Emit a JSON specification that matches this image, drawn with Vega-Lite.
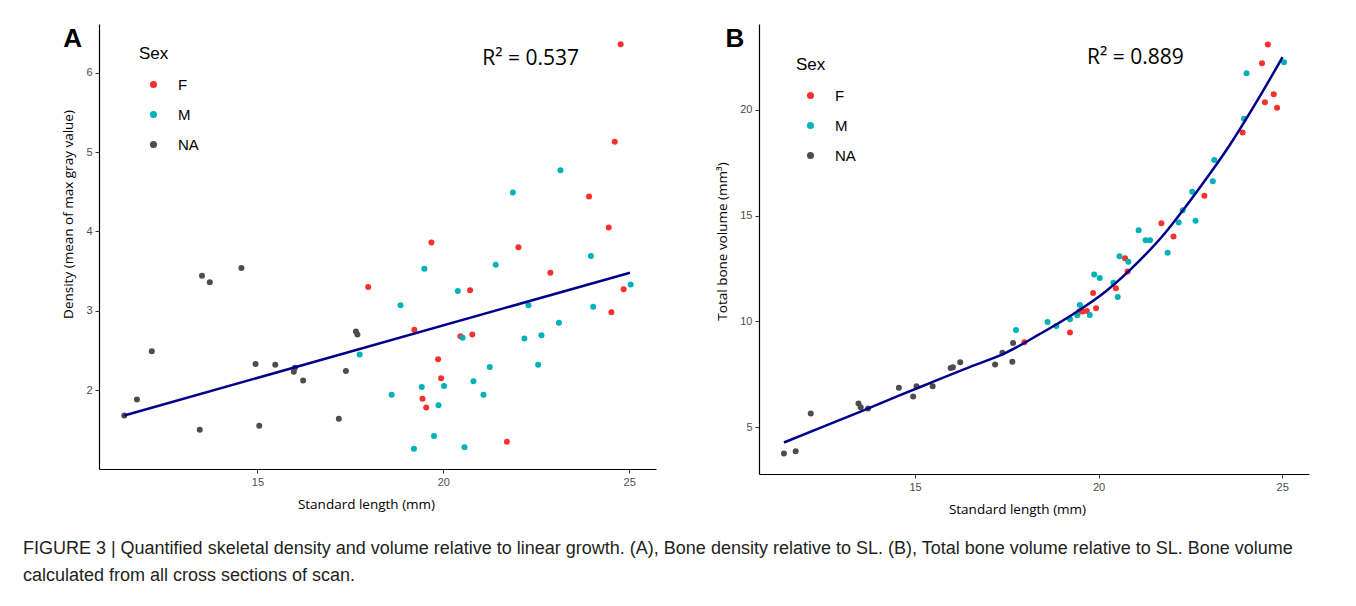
{
  "$schema": "https://vega.github.io/schema/vega-lite/v6.json",
  "background": "white",
  "padding": {"left": 22, "top": 24, "right": 5, "bottom": 10},
  "spacing": 59,
  "title": {
    "text": ["FIGURE 3 | Quantified skeletal density and volume relative to linear growth. (A), Bone density relative to SL. (B), Total bone volume relative to SL. Bone volume", "calculated from all cross sections of scan."],
    "orient": "bottom", "anchor": "start", "frame": "bounds", "dx": -39, "offset": 24,
    "font": "Liberation Sans", "fontSize": 18, "fontWeight": "normal", "lineHeight": 27, "color": "#231F20"
  },
  "datasets": {
    "densA": [
      {"sl": 24.77, "density": 6.36, "sex": "F"},
      {"sl": 24.61, "density": 5.13, "sex": "F"},
      {"sl": 23.92, "density": 4.44, "sex": "F"},
      {"sl": 24.45, "density": 4.05, "sex": "F"},
      {"sl": 19.68, "density": 3.86, "sex": "F"},
      {"sl": 22.02, "density": 3.80, "sex": "F"},
      {"sl": 22.88, "density": 3.48, "sex": "F"},
      {"sl": 20.72, "density": 3.26, "sex": "F"},
      {"sl": 24.85, "density": 3.27, "sex": "F"},
      {"sl": 24.52, "density": 2.98, "sex": "F"},
      {"sl": 19.22, "density": 2.76, "sex": "F"},
      {"sl": 20.46, "density": 2.68, "sex": "F"},
      {"sl": 20.78, "density": 2.70, "sex": "F"},
      {"sl": 19.86, "density": 2.39, "sex": "F"},
      {"sl": 19.94, "density": 2.15, "sex": "F"},
      {"sl": 19.44, "density": 1.89, "sex": "F"},
      {"sl": 19.54, "density": 1.78, "sex": "F"},
      {"sl": 21.71, "density": 1.35, "sex": "F"},
      {"sl": 17.98, "density": 3.30, "sex": "F"},
      {"sl": 23.15, "density": 4.77, "sex": "M"},
      {"sl": 21.87, "density": 4.49, "sex": "M"},
      {"sl": 23.97, "density": 3.69, "sex": "M"},
      {"sl": 19.49, "density": 3.53, "sex": "M"},
      {"sl": 21.41, "density": 3.58, "sex": "M"},
      {"sl": 20.39, "density": 3.25, "sex": "M"},
      {"sl": 25.04, "density": 3.33, "sex": "M"},
      {"sl": 18.85, "density": 3.07, "sex": "M"},
      {"sl": 22.29, "density": 3.07, "sex": "M"},
      {"sl": 24.03, "density": 3.05, "sex": "M"},
      {"sl": 23.11, "density": 2.85, "sex": "M"},
      {"sl": 20.52, "density": 2.66, "sex": "M"},
      {"sl": 22.18, "density": 2.65, "sex": "M"},
      {"sl": 22.64, "density": 2.69, "sex": "M"},
      {"sl": 21.25, "density": 2.29, "sex": "M"},
      {"sl": 22.55, "density": 2.32, "sex": "M"},
      {"sl": 20.81, "density": 2.11, "sex": "M"},
      {"sl": 19.42, "density": 2.04, "sex": "M"},
      {"sl": 20.02, "density": 2.05, "sex": "M"},
      {"sl": 21.08, "density": 1.94, "sex": "M"},
      {"sl": 18.61, "density": 1.94, "sex": "M"},
      {"sl": 19.87, "density": 1.81, "sex": "M"},
      {"sl": 19.75, "density": 1.42, "sex": "M"},
      {"sl": 19.21, "density": 1.26, "sex": "M"},
      {"sl": 20.57, "density": 1.28, "sex": "M"},
      {"sl": 17.75, "density": 2.45, "sex": "M"},
      {"sl": 11.42, "density": 1.68, "sex": "NA"},
      {"sl": 11.76, "density": 1.88, "sex": "NA"},
      {"sl": 12.16, "density": 2.49, "sex": "NA"},
      {"sl": 13.45, "density": 1.50, "sex": "NA"},
      {"sl": 13.51, "density": 3.44, "sex": "NA"},
      {"sl": 13.72, "density": 3.36, "sex": "NA"},
      {"sl": 14.57, "density": 3.54, "sex": "NA"},
      {"sl": 14.95, "density": 2.33, "sex": "NA"},
      {"sl": 15.05, "density": 1.55, "sex": "NA"},
      {"sl": 15.48, "density": 2.32, "sex": "NA"},
      {"sl": 15.98, "density": 2.23, "sex": "NA"},
      {"sl": 16.01, "density": 2.28, "sex": "NA"},
      {"sl": 16.23, "density": 2.12, "sex": "NA"},
      {"sl": 17.19, "density": 1.64, "sex": "NA"},
      {"sl": 17.38, "density": 2.24, "sex": "NA"},
      {"sl": 17.65, "density": 2.74, "sex": "NA"},
      {"sl": 17.69, "density": 2.70, "sex": "NA"}
    ],
    "lineA": [
      {"sl": 11.42, "density": 1.68},
      {"sl": 25.02, "density": 3.48}
    ],
    "volB": [
      {"sl": 17.98, "volume": 9.02, "sex": "F"},
      {"sl": 19.22, "volume": 9.48, "sex": "F"},
      {"sl": 19.47, "volume": 10.47, "sex": "F"},
      {"sl": 19.56, "volume": 10.47, "sex": "F"},
      {"sl": 19.68, "volume": 10.49, "sex": "F"},
      {"sl": 19.85, "volume": 11.35, "sex": "F"},
      {"sl": 19.93, "volume": 10.63, "sex": "F"},
      {"sl": 20.47, "volume": 11.57, "sex": "F"},
      {"sl": 20.72, "volume": 12.98, "sex": "F"},
      {"sl": 20.79, "volume": 12.36, "sex": "F"},
      {"sl": 21.71, "volume": 14.63, "sex": "F"},
      {"sl": 22.04, "volume": 14.01, "sex": "F"},
      {"sl": 22.88, "volume": 15.93, "sex": "F"},
      {"sl": 23.92, "volume": 18.92, "sex": "F"},
      {"sl": 24.61, "volume": 23.07, "sex": "F"},
      {"sl": 24.45, "volume": 22.18, "sex": "F"},
      {"sl": 24.77, "volume": 20.72, "sex": "F"},
      {"sl": 24.53, "volume": 20.34, "sex": "F"},
      {"sl": 24.86, "volume": 20.08, "sex": "F"},
      {"sl": 17.75, "volume": 9.60, "sex": "M"},
      {"sl": 18.61, "volume": 9.98, "sex": "M"},
      {"sl": 18.85, "volume": 9.79, "sex": "M"},
      {"sl": 19.22, "volume": 10.11, "sex": "M"},
      {"sl": 19.42, "volume": 10.29, "sex": "M"},
      {"sl": 19.49, "volume": 10.78, "sex": "M"},
      {"sl": 19.76, "volume": 10.31, "sex": "M"},
      {"sl": 19.88, "volume": 12.22, "sex": "M"},
      {"sl": 20.03, "volume": 12.05, "sex": "M"},
      {"sl": 20.40, "volume": 11.83, "sex": "M"},
      {"sl": 20.52, "volume": 11.16, "sex": "M"},
      {"sl": 20.57, "volume": 13.08, "sex": "M"},
      {"sl": 20.81, "volume": 12.82, "sex": "M"},
      {"sl": 21.09, "volume": 14.30, "sex": "M"},
      {"sl": 21.28, "volume": 13.83, "sex": "M"},
      {"sl": 21.40, "volume": 13.83, "sex": "M"},
      {"sl": 21.88, "volume": 13.24, "sex": "M"},
      {"sl": 22.18, "volume": 14.67, "sex": "M"},
      {"sl": 22.29, "volume": 15.25, "sex": "M"},
      {"sl": 22.55, "volume": 16.12, "sex": "M"},
      {"sl": 22.64, "volume": 14.75, "sex": "M"},
      {"sl": 23.11, "volume": 16.62, "sex": "M"},
      {"sl": 23.15, "volume": 17.62, "sex": "M"},
      {"sl": 23.96, "volume": 19.56, "sex": "M"},
      {"sl": 24.03, "volume": 21.71, "sex": "M"},
      {"sl": 25.05, "volume": 22.23, "sex": "M"},
      {"sl": 11.43, "volume": 3.77, "sex": "NA"},
      {"sl": 11.75, "volume": 3.88, "sex": "NA"},
      {"sl": 12.16, "volume": 5.66, "sex": "NA"},
      {"sl": 13.46, "volume": 6.13, "sex": "NA"},
      {"sl": 13.52, "volume": 5.95, "sex": "NA"},
      {"sl": 13.72, "volume": 5.90, "sex": "NA"},
      {"sl": 14.56, "volume": 6.87, "sex": "NA"},
      {"sl": 14.95, "volume": 6.46, "sex": "NA"},
      {"sl": 15.04, "volume": 6.95, "sex": "NA"},
      {"sl": 15.48, "volume": 6.95, "sex": "NA"},
      {"sl": 15.97, "volume": 7.81, "sex": "NA"},
      {"sl": 16.03, "volume": 7.84, "sex": "NA"},
      {"sl": 16.23, "volume": 8.08, "sex": "NA"},
      {"sl": 17.18, "volume": 7.97, "sex": "NA"},
      {"sl": 17.38, "volume": 8.52, "sex": "NA"},
      {"sl": 17.67, "volume": 8.99, "sex": "NA"},
      {"sl": 17.65, "volume": 8.10, "sex": "NA"}
    ],
    "curveB": [
      {"sl": 11.43, "volume": 4.29},
      {"sl": 12.5, "volume": 5.04},
      {"sl": 13.5, "volume": 5.74},
      {"sl": 14.56, "volume": 6.50},
      {"sl": 15.5, "volume": 7.16},
      {"sl": 16.5, "volume": 7.86},
      {"sl": 17.47, "volume": 8.52},
      {"sl": 18.38, "volume": 9.39},
      {"sl": 19.29, "volume": 10.33},
      {"sl": 20.2, "volume": 11.43},
      {"sl": 21.1, "volume": 12.85},
      {"sl": 21.7, "volume": 13.95},
      {"sl": 22.38, "volume": 15.44},
      {"sl": 23.0, "volume": 16.9},
      {"sl": 23.6, "volume": 18.4},
      {"sl": 24.28, "volume": 20.3},
      {"sl": 25.01, "volume": 22.47}
    ]
  },
  "hconcat": [
    {
      "width": 557,
      "height": 445,
      "layer": [
        {
          "data": {"name": "densA"},
          "mark": {"type": "point", "filled": true, "size": 36, "opacity": 1},
          "encoding": {
            "x": {"field": "sl", "type": "quantitative",
              "scale": {"domain": [10.74, 25.72], "nice": false, "zero": false},
              "axis": {"values": [15, 20, 25], "format": "d", "title": "Standard length (mm)", "titleX": 267}},
            "y": {"field": "density", "type": "quantitative",
              "scale": {"domain": [1.005, 6.615], "nice": false, "zero": false},
              "axis": {"values": [2, 3, 4, 5, 6], "format": "d", "title": "Density (mean of max gray value)", "titleY": 190}},
            "color": {"field": "sex", "type": "nominal",
              "scale": {"domain": ["F", "M", "NA"], "range": ["#F8312F", "#00B2B8", "#4D4D4D"]},
              "legend": {"title": "Sex", "orient": "none", "legendX": 40, "legendY": 22}}
          }
        },
        {
          "data": {"name": "lineA"},
          "mark": {"type": "line", "color": "#00008B", "strokeWidth": 2.5},
          "encoding": {
            "x": {"field": "sl", "type": "quantitative"},
            "y": {"field": "density", "type": "quantitative"}
          }
        },
        {
          "data": {"values": [{}]},
          "mark": {"type": "text", "text": "R² = 0.537", "font": "Open Sans", "fontSize": 21, "color": "black", "align": "center", "baseline": "middle"},
          "encoding": {"x": {"datum": 22.35}, "y": {"datum": 6.17}}
        },
        {
          "data": {"values": [{}]},
          "mark": {"type": "text", "text": "A", "font": "Liberation Sans", "fontSize": 26, "fontWeight": "bold", "color": "black", "align": "center", "baseline": "middle"},
          "encoding": {"x": {"datum": 10.03}, "y": {"datum": 6.43}}
        }
      ]
    },
    {
      "width": 550,
      "height": 450,
      "layer": [
        {
          "data": {"name": "volB"},
          "mark": {"type": "point", "filled": true, "size": 36, "opacity": 1},
          "encoding": {
            "x": {"field": "sl", "type": "quantitative",
              "scale": {"domain": [10.75, 25.73], "nice": false, "zero": false},
              "axis": {"values": [15, 20, 25], "format": "d", "title": "Standard length (mm)", "titleX": 258}},
            "y": {"field": "volume", "type": "quantitative",
              "scale": {"domain": [2.805, 24.035], "nice": false, "zero": false},
              "axis": {"values": [5, 10, 15, 20], "format": "d", "title": "Total bone volume (mm³)", "titleY": 217}},
            "color": {"field": "sex", "type": "nominal",
              "scale": {"domain": ["F", "M", "NA"], "range": ["#F8312F", "#00B2B8", "#4D4D4D"]},
              "legend": {"title": "Sex", "orient": "none", "legendX": 37, "legendY": 33}}
          }
        },
        {
          "data": {"name": "curveB"},
          "mark": {"type": "line", "color": "#00008B", "strokeWidth": 2.5, "interpolate": "monotone"},
          "encoding": {
            "x": {"field": "sl", "type": "quantitative"},
            "y": {"field": "volume", "type": "quantitative"}
          }
        },
        {
          "data": {"values": [{}]},
          "mark": {"type": "text", "text": "R² = 0.889", "font": "Open Sans", "fontSize": 21, "color": "black", "align": "center", "baseline": "middle"},
          "encoding": {"x": {"datum": 21.0}, "y": {"datum": 22.42}}
        },
        {
          "data": {"values": [{}]},
          "mark": {"type": "text", "text": "B", "font": "Liberation Sans", "fontSize": 26, "fontWeight": "bold", "color": "black", "align": "center", "baseline": "middle"},
          "encoding": {"x": {"datum": 10.09}, "y": {"datum": 23.32}}
        }
      ]
    }
  ],
  "resolve": {
    "scale": {"x": "independent", "y": "independent", "color": "independent"},
    "legend": {"color": "independent"}
  },
  "config": {
    "view": {"stroke": null},
    "axis": {
      "grid": false,
      "domainColor": "black",
      "domainWidth": 1.2,
      "tickColor": "#333333",
      "tickSize": 4,
      "tickWidth": 1,
      "labelColor": "#4D4D4D",
      "labelFont": "Liberation Sans",
      "labelFontSize": 11,
      "labelPadding": 3,
      "titleFont": "Open Sans",
      "titleFontSize": 13.5,
      "titleFontWeight": "normal",
      "titleColor": "black",
      "titlePadding": 10
    },
    "legend": {
      "titleFont": "Liberation Sans",
      "titleFontSize": 17,
      "titleFontWeight": "normal",
      "titleColor": "black",
      "titlePadding": 14,
      "labelFont": "Liberation Sans",
      "labelFontSize": 15,
      "labelColor": "black",
      "labelOffset": 17,
      "symbolType": "circle",
      "symbolSize": 50,
      "symbolOffset": 7,
      "rowPadding": 14
    }
  }
}
